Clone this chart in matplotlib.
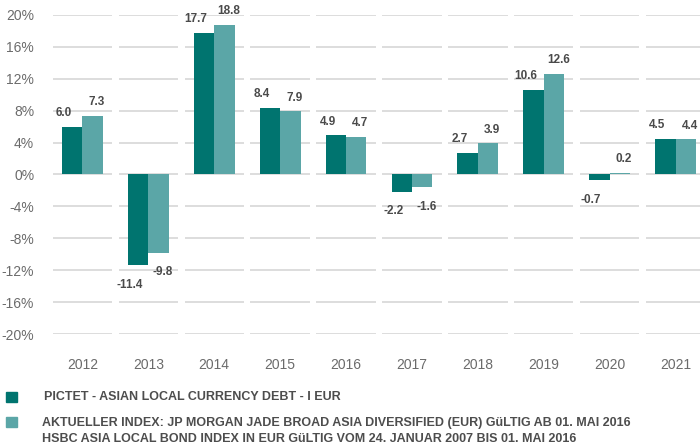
import matplotlib
matplotlib.use("Agg")
import matplotlib.pyplot as plt
from matplotlib.patches import Rectangle
import numpy as np

# data
years = ["2012", "2013", "2014", "2015", "2016", "2017", "2018", "2019", "2020", "2021"]
fund = [6.0, -11.4, 17.7, 8.4, 4.9, -2.2, 2.7, 10.6, -0.7, 4.5]
index = [7.3, -9.8, 18.8, 7.9, 4.7, -1.6, 3.9, 12.6, 0.2, 4.4]
yticks = [-20, -16, -12, -8, -4, 0, 4, 8, 12, 16, 20]
legend_labels = [
    "PICTET - ASIAN LOCAL CURRENCY DEBT - I EUR",
    "AKTUELLER INDEX: JP MORGAN JADE BROAD ASIA DIVERSIFIED (EUR) GüLTIG AB 01. MAI 2016\n"
    "HSBC ASIA LOCAL BOND INDEX IN EUR GüLTIG VOM 24. JANUAR 2007 BIS 01. MAI 2016",
]

dark = "#00746F"
light = "#5BA6A7"
grid_col = "#dadada"
label_col = "#4a4a4a"
tick_col = "#6b6b6b"

plt.rcParams["font.family"] = ["Liberation Sans", "DejaVu Sans"]

fig = plt.figure(figsize=(7, 4.48), dpi=100)
ax = fig.add_axes([49.5 / 700, 1 - 334 / 448, 659 / 700, 319 / 448])

x = np.arange(len(years))
w = 0.31

# broken gridlines, one segment per category
for yv in yticks:
    ax.hlines([yv] * len(x), x - 0.45, x + 0.45, color=grid_col, lw=1.3, zorder=1)

ax.bar(x - w / 2, fund, w, color=dark, zorder=2)
ax.bar(x + w / 2, index, w, color=light, zorder=2)

def put_labels(vals, xpos, dx):
    for xi, v in zip(xpos, vals):
        off = 10 if v >= 0 else -14
        ax.annotate(f"{v:.1f}", (xi, v), xytext=(dx, off), textcoords="offset points",
                    ha="center", va="center", fontsize=8.5, fontweight="bold",
                    color=label_col)

put_labels(fund, x - w / 2, -6)
put_labels(index, x + w / 2, 3)

ax.set_xlim(-0.5, 9.5)
ax.set_ylim(-20, 20)
ax.set_yticks(yticks)
ax.set_yticklabels([f"{v}%" for v in yticks])
ax.set_xticks(x)
ax.set_xticklabels(years)
ax.tick_params(axis="both", length=0, labelsize=10, labelcolor=tick_col)
ax.tick_params(axis="y", pad=11)
ax.tick_params(axis="x", pad=17)
for s in ax.spines.values():
    s.set_visible(False)

# legend drawn by hand
legend_font = ["Liberation Sans Narrow", "Liberation Sans", "DejaVu Sans"]
fig.patches.append(Rectangle((6 / 700, 1 - 402 / 448), 11 / 700, 10 / 448,
                             transform=fig.transFigure, color=dark))
fig.patches.append(Rectangle((6 / 700, 1 - 427 / 448), 11 / 700, 10 / 448,
                             transform=fig.transFigure, color=light))
fig.text(44 / 700, 1 - 397 / 448, legend_labels[0], family=legend_font,
         fontsize=9, fontweight="bold", color="#4d4d4d", va="center")
fig.text(42 / 700, 1 - 431 / 448, legend_labels[1], family=legend_font,
         fontsize=9, fontweight="bold", color="#4d4d4d", va="center",
         linespacing=1.35)

fig.savefig("out.png", dpi=100)
